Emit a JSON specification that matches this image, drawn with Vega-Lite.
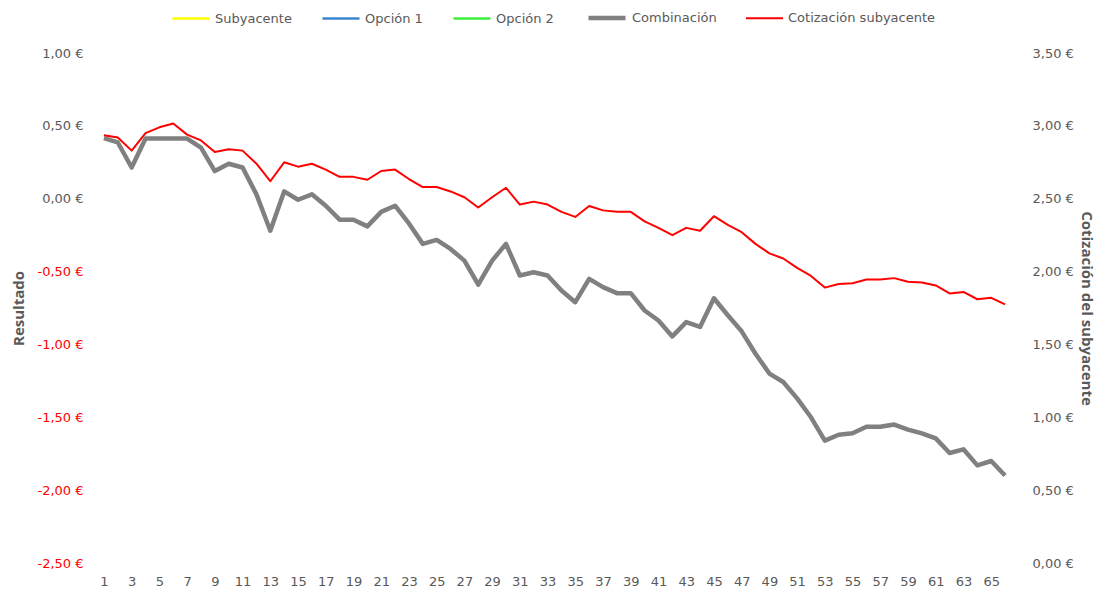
{
  "$schema": "https://vega.github.io/schema/vega-lite/v6.json",
  "width": 915,
  "height": 510,
  "autosize": {"type": "none"},
  "padding": {"left": 97, "top": 53, "right": 85, "bottom": 32},
  "background": "white",
  "config": {
    "view": {"stroke": null},
    "font": "DejaVu Sans",
    "axis": {"labelFont": "DejaVu Sans", "titleFont": "Open Sans", "labelColor": "#595959", "titleColor": "#595959", "grid": false, "domain": false, "ticks": false}
  },
  "data": {
    "values": [
      {"t":1,"Combinación":0.416,"Cotización subyacente":2.936},
      {"t":2,"Combinación":0.386,"Cotización subyacente":2.92},
      {"t":3,"Combinación":0.214,"Cotización subyacente":2.83},
      {"t":4,"Combinación":0.413,"Cotización subyacente":2.95},
      {"t":5,"Combinación":0.413,"Cotización subyacente":2.99},
      {"t":6,"Combinación":0.413,"Cotización subyacente":3.016},
      {"t":7,"Combinación":0.413,"Cotización subyacente":2.94},
      {"t":8,"Combinación":0.35,"Cotización subyacente":2.90},
      {"t":9,"Combinación":0.19,"Cotización subyacente":2.82},
      {"t":10,"Combinación":0.24,"Cotización subyacente":2.84},
      {"t":11,"Combinación":0.214,"Cotización subyacente":2.83},
      {"t":12,"Combinación":0.03,"Cotización subyacente":2.74},
      {"t":13,"Combinación":-0.22,"Cotización subyacente":2.62},
      {"t":14,"Combinación":0.05,"Cotización subyacente":2.75},
      {"t":15,"Combinación":-0.007,"Cotización subyacente":2.72},
      {"t":16,"Combinación":0.03,"Cotización subyacente":2.74},
      {"t":17,"Combinación":-0.048,"Cotización subyacente":2.70},
      {"t":18,"Combinación":-0.144,"Cotización subyacente":2.65},
      {"t":19,"Combinación":-0.144,"Cotización subyacente":2.65},
      {"t":20,"Combinación":-0.19,"Cotización subyacente":2.63},
      {"t":21,"Combinación":-0.09,"Cotización subyacente":2.69},
      {"t":22,"Combinación":-0.048,"Cotización subyacente":2.70},
      {"t":23,"Combinación":-0.17,"Cotización subyacente":2.635},
      {"t":24,"Combinación":-0.31,"Cotización subyacente":2.58},
      {"t":25,"Combinación":-0.283,"Cotización subyacente":2.58},
      {"t":26,"Combinación":-0.345,"Cotización subyacente":2.55},
      {"t":27,"Combinación":-0.425,"Cotización subyacente":2.51},
      {"t":28,"Combinación":-0.59,"Cotización subyacente":2.44},
      {"t":29,"Combinación":-0.425,"Cotización subyacente":2.51},
      {"t":30,"Combinación":-0.31,"Cotización subyacente":2.575},
      {"t":31,"Combinación":-0.527,"Cotización subyacente":2.46},
      {"t":32,"Combinación":-0.505,"Cotización subyacente":2.48},
      {"t":33,"Combinación":-0.527,"Cotización subyacente":2.46},
      {"t":34,"Combinación":-0.63,"Cotización subyacente":2.41},
      {"t":35,"Combinación":-0.71,"Cotización subyacente":2.375},
      {"t":36,"Combinación":-0.55,"Cotización subyacente":2.45},
      {"t":37,"Combinación":-0.607,"Cotización subyacente":2.42},
      {"t":38,"Combinación":-0.648,"Cotización subyacente":2.41},
      {"t":39,"Combinación":-0.648,"Cotización subyacente":2.41},
      {"t":40,"Combinación":-0.767,"Cotización subyacente":2.345},
      {"t":41,"Combinación":-0.836,"Cotización subyacente":2.30},
      {"t":42,"Combinación":-0.945,"Cotización subyacente":2.25},
      {"t":43,"Combinación":-0.847,"Cotización subyacente":2.30},
      {"t":44,"Combinación":-0.88,"Cotización subyacente":2.28},
      {"t":45,"Combinación":-0.683,"Cotización subyacente":2.38},
      {"t":46,"Combinación":-0.80,"Cotización subyacente":2.32},
      {"t":47,"Combinación":-0.91,"Cotización subyacente":2.27},
      {"t":48,"Combinación":-1.064,"Cotización subyacente":2.19},
      {"t":49,"Combinación":-1.20,"Cotización subyacente":2.125},
      {"t":50,"Combinación":-1.258,"Cotización subyacente":2.09},
      {"t":51,"Combinación":-1.37,"Cotización subyacente":2.025},
      {"t":52,"Combinación":-1.50,"Cotización subyacente":1.97},
      {"t":53,"Combinación":-1.66,"Cotización subyacente":1.89},
      {"t":54,"Combinación":-1.62,"Cotización subyacente":1.915},
      {"t":55,"Combinación":-1.61,"Cotización subyacente":1.92},
      {"t":56,"Combinación":-1.565,"Cotización subyacente":1.945},
      {"t":57,"Combinación":-1.565,"Cotización subyacente":1.945},
      {"t":58,"Combinación":-1.55,"Cotización subyacente":1.955},
      {"t":59,"Combinación":-1.585,"Cotización subyacente":1.93},
      {"t":60,"Combinación":-1.61,"Cotización subyacente":1.925},
      {"t":61,"Combinación":-1.645,"Cotización subyacente":1.905},
      {"t":62,"Combinación":-1.745,"Cotización subyacente":1.85},
      {"t":63,"Combinación":-1.72,"Cotización subyacente":1.86},
      {"t":64,"Combinación":-1.83,"Cotización subyacente":1.81},
      {"t":65,"Combinación":-1.80,"Cotización subyacente":1.82},
      {"t":66,"Combinación":-1.90,"Cotización subyacente":1.775}
    ]
  },
  "transform": [{"fold": ["Combinación", "Cotización subyacente"], "as": ["serie", "valor"]}],
  "encoding": {
    "x": {
      "field": "t", "type": "quantitative",
      "scale": {"domain": [0.5, 66.5], "nice": false, "zero": false},
      "axis": {"title": null, "values": [1,3,5,7,9,11,13,15,17,19,21,23,25,27,29,31,33,35,37,39,41,43,45,47,49,51,53,55,57,59,61,63,65], "labelFontSize": 13, "labelPadding": 12, "labelFlush": false}
    },
    "color": {
      "field": "serie", "type": "nominal",
      "scale": {"domain": ["Subyacente", "Opción 1", "Opción 2", "Combinación", "Cotización subyacente"], "range": ["#FFFF00", "#3A87D0", "#3CF03C", "#808080", "#FF0000"]},
      "legend": {"title": null, "orient": "none", "legendX": 74, "legendY": -56, "direction": "horizontal", "symbolType": "stroke", "symbolSize": 1369, "labelFontSize": 13, "labelColor": "#595959", "labelFont": "DejaVu Sans", "columnPadding": 25, "labelOffset": 4}
    },
    "strokeWidth": {
      "field": "serie", "type": "nominal",
      "scale": {"type": "ordinal", "domain": ["Subyacente", "Opción 1", "Opción 2", "Combinación", "Cotización subyacente"], "range": [2.5, 2.5, 2.5, 4.5, 2]},
      "legend": {"title": null, "orient": "none", "legendX": 74, "legendY": -56, "direction": "horizontal", "symbolType": "stroke", "symbolSize": 1369, "labelFontSize": 13, "labelColor": "#595959", "labelFont": "DejaVu Sans", "columnPadding": 25, "labelOffset": 4}
    }
  },
  "layer": [
    {
      "transform": [{"filter": "datum.serie === 'Combinación'"}],
      "mark": {"type": "line", "strokeJoin": "round"},
      "encoding": {
        "y": {
          "field": "valor", "type": "quantitative",
          "scale": {"domain": [-2.5, 1], "nice": false, "zero": false},
          "axis": {"orient": "left", "title": "Resultado", "titleFontSize": 15, "titleFontWeight": "bold", "titlePadding": 10, "values": [-2.5,-2,-1.5,-1,-0.5,0,0.5,1], "labelExpr": "(datum.value < 0 ? '-' : '') + replace(format(abs(datum.value), '.2f'), '.', ',') + ' €'", "labelColor": {"expr": "datum.value < 0 ? '#FF0000' : '#595959'"}, "labelFontSize": 13, "labelPadding": 14}
        }
      }
    },
    {
      "transform": [{"filter": "datum.serie === 'Cotización subyacente'"}],
      "mark": {"type": "line", "strokeJoin": "round"},
      "encoding": {
        "y": {
          "field": "valor", "type": "quantitative",
          "scale": {"domain": [0, 3.5], "nice": false, "zero": false},
          "axis": {"orient": "right", "title": "Cotización del subyacente", "titleFontSize": 15, "titleFontWeight": "bold", "titlePadding": 5, "values": [0,0.5,1,1.5,2,2.5,3,3.5], "labelExpr": "replace(format(datum.value, '.2f'), '.', ',') + ' €'", "labelFontSize": 13, "labelPadding": 20}
        }
      }
    }
  ],
  "resolve": {"scale": {"y": "independent"}}
}
